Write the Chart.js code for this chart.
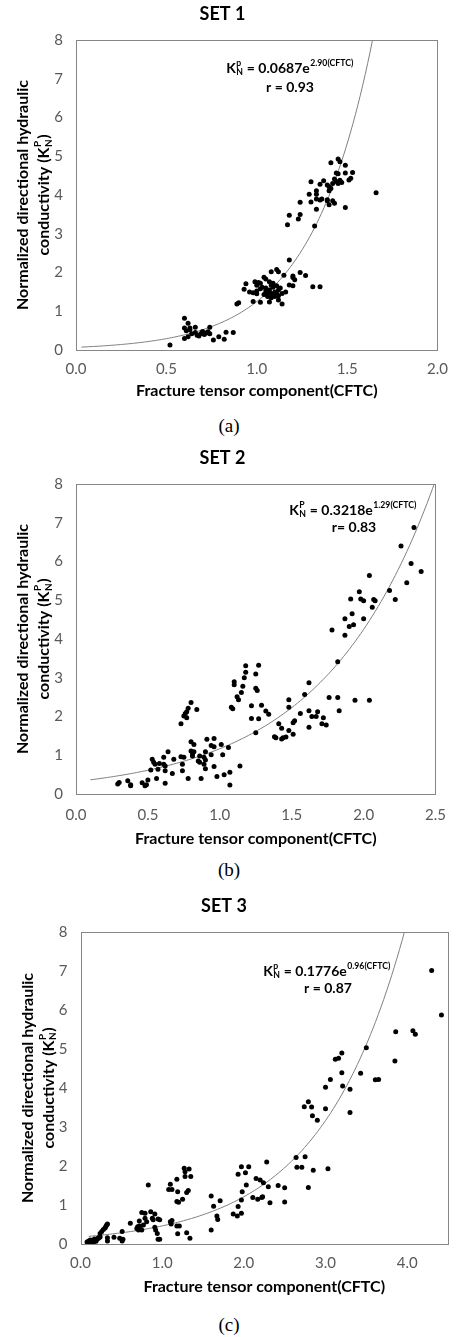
<!DOCTYPE html>
<html>
<head>
<meta charset="utf-8">
<script src="https://cdn.jsdelivr.net/npm/chart.js@4.4.1/dist/chart.umd.min.js"></script>
<style>
  body { margin: 0; background: #fff; width: 458px; height: 1337px; position: relative; overflow: hidden; }
  canvas { position: absolute; left: 0; }
  .cap { position: absolute; left: 0; width: 458px; text-align: center; line-height: 22px;
         font-family: "Liberation Serif", "Times New Roman", serif; font-size: 19px; color: #000; }
</style>
</head>
<body>
<canvas id="set1" width="458" height="400" style="top:0px"></canvas>
<div class="cap" style="top:415px">(a)</div>
<canvas id="set2" width="458" height="404" style="top:444px"></canvas>
<div class="cap" style="top:859px">(b)</div>
<canvas id="set3" width="458" height="404" style="top:892px"></canvas>
<div class="cap" style="top:1314px">(c)</div>

<script>
// ---- data (CFTC, Kn) ----
const set1Points = [
  [0.52,0.13],[0.60,0.82],[0.62,0.69],[0.60,0.57],[0.63,0.57],[0.61,0.50],[0.63,0.52],[0.66,0.59],[0.74,0.59],
  [0.60,0.30],[0.62,0.34],[0.64,0.42],[0.66,0.45],[0.67,0.38],[0.68,0.36],[0.69,0.42],[0.70,0.46],[0.70,0.48],
  [0.71,0.40],[0.72,0.44],[0.73,0.47],[0.74,0.42],[0.76,0.26],[0.79,0.34],[0.82,0.28],[0.83,0.46],[0.87,0.45],
  [0.89,1.19],[0.90,1.22],[0.93,1.57],[0.94,1.71],[0.99,1.76],[1.01,1.74],[1.00,1.67],[1.02,1.72],[1.07,1.76],
  [1.09,1.72],[1.08,1.67],[0.98,1.25],[1.02,1.23],[1.07,1.24],[1.12,1.29],[1.14,1.19],[1.16,1.50],[1.04,1.88],
  [1.05,1.83],[1.08,2.02],[1.11,2.08],[1.12,2.02],[1.15,1.93],[1.20,1.91],[1.20,1.87],[1.21,1.81],[1.24,2.00],
  [1.27,1.92],[1.18,1.68],[1.20,1.66],[1.31,1.63],[1.35,1.63],[1.18,2.32],
  [0.96,1.50],[0.98,1.48],[1.00,1.52],[1.02,1.58],[1.03,1.62],[1.05,1.52],[1.06,1.47],[1.07,1.55],[1.08,1.46],
  [1.09,1.40],[1.10,1.50],[1.11,1.45],[1.12,1.55],[1.13,1.60],[1.14,1.46],[1.04,1.43],[1.06,1.38],[1.08,1.35],
  [1.10,1.38],[1.12,1.40],[1.00,1.45],[1.05,1.60],[1.09,1.62],[1.11,1.66],
  [1.17,3.23],[1.18,3.48],[1.24,3.50],[1.23,3.38],[1.32,3.20],[1.33,3.63],[1.49,3.68],[1.66,4.06],[1.24,3.81],
  [1.30,3.82],[1.33,3.90],[1.36,3.90],[1.35,3.87],[1.39,3.88],[1.39,3.85],[1.42,3.85],[1.43,3.79],[1.40,3.75],
  [1.29,4.02],[1.33,4.02],[1.33,4.11],[1.40,4.11],[1.30,4.34],[1.37,4.37],[1.35,4.28],[1.39,4.26],[1.40,4.21],
  [1.41,4.17],[1.43,4.41],[1.44,4.35],[1.45,4.30],[1.46,4.38],[1.44,4.57],[1.45,4.55],[1.49,4.57],[1.53,4.58],
  [1.52,4.43],[1.51,4.39],[1.45,4.93],[1.46,4.86],[1.41,4.83],[1.49,4.77],[1.47,4.32],[1.42,4.30]
];
const set2Points = [
  [0.29,0.26],[0.30,0.30],[0.36,0.34],[0.38,0.24],[0.38,0.21],[0.46,0.29],[0.48,0.21],[0.49,0.24],[0.50,0.36],
  [0.52,0.62],[0.53,0.90],[0.54,0.82],[0.55,0.77],[0.56,0.40],[0.57,0.64],[0.58,0.79],[0.61,0.77],[0.61,0.95],
  [0.62,0.72],[0.62,0.60],[0.62,0.28],[0.64,1.09],[0.67,0.53],[0.68,0.90],[0.73,0.96],[0.74,0.77],[0.74,0.60],
  [0.75,0.95],[0.78,0.40],[0.80,1.11],[0.81,1.03],[0.82,1.09],[0.81,0.98],[0.80,1.35],[0.82,1.28],[0.86,0.98],
  [0.85,0.85],[0.86,0.82],[0.87,0.40],[0.89,0.77],[0.89,0.95],[0.90,0.65],[0.90,0.88],[0.90,1.09],[0.91,1.41],
  [0.94,1.01],[0.94,1.25],[0.96,1.43],[0.96,1.22],[0.96,0.71],[0.98,0.45],[1.01,1.28],[1.02,1.01],[1.03,0.50],
  [1.06,1.20],[1.07,0.56],[1.07,0.23],[1.14,0.72],
  [0.73,1.81],[0.75,2.01],[0.76,2.08],[0.77,2.12],[0.77,1.97],[0.78,2.21],[0.80,2.36],[0.84,2.18],
  [1.08,2.24],[1.09,2.20],[1.10,2.82],[1.10,2.90],[1.12,2.51],[1.13,2.43],[1.15,2.62],[1.16,2.78],[1.17,3.00],
  [1.18,3.14],[1.18,3.31],[1.22,2.28],[1.22,1.95],[1.25,2.73],[1.26,2.67],[1.25,3.10],[1.27,3.32],[1.27,1.94],
  [1.25,1.58],[1.29,2.29],[1.32,2.14],[1.34,2.06],
  [1.38,1.48],[1.39,1.45],[1.41,1.81],[1.43,1.42],[1.43,1.70],[1.44,1.45],[1.46,1.47],[1.48,1.64],[1.48,2.43],
  [1.48,2.24],[1.51,1.54],[1.51,1.84],[1.52,1.89],[1.56,2.08],[1.59,2.57],[1.62,1.72],[1.62,2.15],[1.62,2.87],
  [1.64,2.00],[1.67,2.00],[1.68,2.12],[1.71,1.81],[1.72,1.97],[1.74,1.78],[1.76,2.49],[1.82,2.49],[1.83,2.15],
  [1.94,2.42],[2.04,2.42],
  [1.78,4.23],[1.82,3.41],[1.87,4.10],[1.87,4.52],[1.90,4.32],[1.91,5.03],[1.92,4.65],[1.93,4.37],[1.97,5.22],
  [1.98,5.03],[2.00,4.99],[2.00,4.52],[2.04,5.64],[2.06,4.82],[2.07,5.02],[2.08,4.99],[2.18,5.25],[2.22,5.02],
  [2.26,6.40],[2.30,5.45],[2.33,5.95],[2.35,6.88],[2.40,5.74]
];
const set3Points = [
  [0.08,0.05],[0.10,0.08],[0.11,0.04],[0.12,0.10],[0.13,0.06],[0.15,0.09],[0.16,0.05],[0.17,0.13],[0.18,0.10],
  [0.19,0.07],[0.20,0.12],[0.21,0.14],[0.22,0.15],[0.23,0.17],[0.24,0.18],[0.24,0.27],[0.26,0.32],[0.28,0.37],
  [0.30,0.41],[0.31,0.45],[0.32,0.49],[0.33,0.51],[0.33,0.16],[0.33,0.08],[0.41,0.17],[0.48,0.15],[0.51,0.32],
  [0.52,0.12],[0.51,0.08],
  [0.61,0.53],[0.69,0.40],[0.70,0.44],[0.71,0.36],[0.72,0.46],[0.72,0.59],[0.73,0.42],[0.75,0.81],[0.75,0.36],
  [0.77,0.49],[0.79,0.66],[0.79,0.79],[0.81,0.57],[0.83,1.51],[0.86,0.83],[0.88,0.66],[0.89,0.62],[0.91,0.77],
  [0.91,0.43],[0.92,0.36],[0.94,0.27],[0.95,0.64],[0.95,0.12],[0.97,0.12],[0.97,0.62],
  [1.08,1.40],[1.10,1.53],[1.10,0.57],[1.11,0.51],[1.12,0.60],[1.12,1.40],[1.18,1.66],[1.18,1.09],[1.18,0.46],
  [1.19,1.34],[1.19,0.26],[1.20,1.07],[1.21,0.46],[1.25,1.15],[1.27,1.94],[1.28,1.85],[1.28,1.73],[1.30,1.32],
  [1.30,0.29],[1.32,1.37],[1.33,1.92],[1.34,0.15],[1.35,1.73],
  [1.60,1.23],[1.60,0.36],[1.63,0.97],[1.67,0.72],[1.68,0.63],[1.71,1.11],[1.87,0.77],[1.92,0.72],[1.93,1.79],
  [1.93,0.96],[1.97,1.98],[1.97,1.13],[1.97,0.79],[1.98,1.34],[2.02,1.83],[2.03,1.51],[2.06,1.98],[2.11,1.19],
  [2.15,1.68],[2.17,1.15],[2.20,1.64],[2.22,1.19],[2.24,1.57],[2.23,1.21],[2.28,2.10],[2.30,1.47],[2.32,1.06],
  [2.42,1.50],[2.50,1.44],[2.50,1.08],
  [2.64,2.22],[2.65,1.97],[2.71,1.97],[2.74,3.52],[2.75,2.24],[2.79,3.65],[2.79,1.45],[2.83,3.51],[2.84,3.29],
  [2.85,1.89],[2.90,3.17],[3.00,3.47],[3.03,1.93],[3.00,4.02],[3.06,4.22],[3.12,4.74],[3.16,4.76],[3.20,4.90],
  [3.20,4.39],[3.21,4.05],[3.30,3.97],[3.30,3.37],[3.43,4.38],[3.50,5.03],[3.61,4.21],[3.65,4.22],[3.85,4.69],
  [3.86,5.44],[4.07,5.47],[4.10,5.38],[4.30,7.01],[4.42,5.87]
];

// exponential trendlines as printed on each panel: Kn = a * e^(b * CFTC)
const set1Fit = { a: 0.0687, b: 2.90, from: 0.03, to: 1.64 };
const set2Fit = { a: 0.3218, b: 1.29, from: 0.10, to: 2.50 };
const set3Fit = { a: 0.1776, b: 0.96, from: 0.10, to: 3.97 };

const yTicks = [0, 1, 2, 3, 4, 5, 6, 7, 8];
const set1XTicks = [0, 0.5, 1.0, 1.5, 2.0];
const set2XTicks = [0, 0.5, 1.0, 1.5, 2.0, 2.5];
const set3XTicks = [0, 1.0, 2.0, 3.0, 4.0];

const FONT = "Lato, 'Open Sans', sans-serif";

function fitCurve(f) {
  const pts = [];
  for (let i = 0; i <= 120; i++) {
    const x = f.from + (f.to - f.from) * i / 120;
    pts.push({ x: x, y: f.a * Math.exp(f.b * x) });
  }
  return pts;
}

// text with stacked sub / superscripts
function partsWidth(ctx, parts, size) {
  let w = 0;
  parts.forEach(p => {
    if (typeof p === "string") {
      ctx.font = "bold " + size + "px " + FONT;
      w += ctx.measureText(p).width;
    } else {
      ctx.font = "bold " + (size * 0.62) + "px " + FONT;
      const a = p.sup ? ctx.measureText(p.sup).width : 0;
      const b = p.sub ? ctx.measureText(p.sub).width : 0;
      w += Math.max(a, b) + 1;
    }
  });
  return w;
}
function drawParts(ctx, parts, cx, cy, size) {
  let x = cx - partsWidth(ctx, parts, size) / 2;
  ctx.textAlign = "left";
  ctx.textBaseline = "middle";
  ctx.fillStyle = "#000";
  parts.forEach(p => {
    if (typeof p === "string") {
      ctx.font = "bold " + size + "px " + FONT;
      ctx.fillText(p, x, cy);
      x += ctx.measureText(p).width;
    } else {
      ctx.font = "bold " + (size * 0.62) + "px " + FONT;
      let ww = 0;
      if (p.sup) { ctx.fillText(p.sup, x + 0.5, cy - size * 0.36); ww = Math.max(ww, ctx.measureText(p.sup).width); }
      if (p.sub) { ctx.fillText(p.sub, x + 0.5, cy + size * 0.3); ww = Math.max(ww, ctx.measureText(p.sub).width); }
      x += ww + 1;
    }
  });
}

const extrasPlugin = {
  id: "extras",
  afterDraw(chart, args, opts) {
    const ctx = chart.ctx;
    const a = chart.chartArea;
    ctx.save();
    // plot frame
    ctx.strokeStyle = "#868686";
    ctx.lineWidth = 1;
    ctx.strokeRect(Math.round(a.left) + 0.5, Math.round(a.top) + 0.5,
                   Math.round(a.right - a.left) - 1, Math.round(a.bottom - a.top));
    // y axis title, two rotated lines
    const midY = (a.top + a.bottom) / 2;
    [["Normalized directional hydraulic"], ["conductivity (K", { sub: "N", sup: "P" }, ")"]].forEach((line, i) => {
      ctx.save();
      ctx.translate(a.left + opts.yTitleX[i], midY);
      ctx.rotate(-Math.PI / 2);
      drawParts(ctx, line, 0, 0, 16);
      ctx.restore();
    });
    // equation + r
    drawParts(ctx, opts.eq, opts.eqPos[0], opts.eqPos[1], 14);
    drawParts(ctx, [opts.r], opts.rPos[0], opts.rPos[1], 14);
    ctx.restore();
  }
};

function makeChart(id, c) {
  return new Chart(document.getElementById(id), {
    type: "scatter",
    data: {
      datasets: [
        { data: c.points.map(p => ({ x: p[0], y: p[1] })), pointRadius: 2.5, pointHoverRadius: 2.5,
          backgroundColor: "#000", borderWidth: 0 },
        { data: fitCurve(c.fit), showLine: true, pointRadius: 0, borderColor: "#808080", borderWidth: 1, fill: false }
      ]
    },
    options: {
      responsive: false,
      animation: false,
      events: [],
      layout: { padding: { left: 0, right: c.padRight, top: 0, bottom: 0 } },
      plugins: {
        legend: { display: false },
        tooltip: { enabled: false },
        title: { display: true, text: c.title, color: "#000",
                 font: { family: FONT, size: 18, weight: "bold" }, padding: { top: 3, bottom: 15.4 } },
        extras: { eq: c.eq, eqPos: c.eqPos, r: c.r, rPos: c.rPos, yTitleX: c.yTitleX }
      },
      scales: {
        x: {
          type: "linear", min: 0, max: c.xMax,
          grid: { display: false, drawTicks: false }, border: { display: false },
          afterBuildTicks: s => { s.ticks = c.xTicks.map(v => ({ value: v })); },
          ticks: { padding: c.xTickPad, color: "#595959", font: { family: FONT, size: 15 },
                   callback: v => Number(v).toFixed(1) },
          title: { display: true, text: "Fracture tensor component(CFTC)", color: "#000",
                   font: { family: FONT, size: 16, weight: "bold" }, padding: { top: 0, bottom: c.xTitlePad } },
          afterFit: s => { s.height = c.xAxisH; }
        },
        y: {
          type: "linear", min: 0, max: 8,
          grid: { display: false, drawTicks: false }, border: { display: false },
          afterBuildTicks: s => { s.ticks = yTicks.map(v => ({ value: v })); },
          ticks: { padding: 13, color: "#595959", font: { family: FONT, size: 15 }, callback: v => String(v) },
          afterFit: s => { s.width = c.yAxisW; }
        }
      }
    },
    plugins: [extrasPlugin]
  });
}

makeChart("set1", {
  title: "SET 1", points: set1Points, fit: set1Fit, xMax: 2.0, xTicks: set1XTicks,
  padRight: 13, yAxisW: 76, xAxisH: 50, xTickPad: 10, xTitlePad: 0,
  eq: ["K", { sub: "N", sup: "p" }, " = 0.0687e", { sup: "2.90(CFTC)" }], eqPos: [290, 68],
  r: "r = 0.93", rPos: [290, 87], yTitleX: [-53, -32]
});
makeChart("set2", {
  title: "SET 2", points: set2Points, fit: set2Fit, xMax: 2.5, xTicks: set2XTicks,
  padRight: 13, yAxisW: 76, xAxisH: 54, xTickPad: 12, xTitlePad: 0,
  eq: ["K", { sub: "N", sup: "P" }, " = 0.3218e", { sup: "1.29(CFTC)" }], eqPos: [353, 66],
  r: "r= 0.83", rPos: [354, 83], yTitleX: [-53, -32]
});
makeChart("set3", {
  title: "SET 3", points: set3Points, fit: set3Fit, xMax: 4.5, xTicks: set3XTicks,
  padRight: 10, yAxisW: 80.5, xAxisH: 52, xTickPad: 10, xTitlePad: 0,
  eq: ["K", { sub: "N", sup: "p" }, " = 0.1776e", { sup: "0.96(CFTC)" }], eqPos: [327, 79],
  r: "r = 0.87", rPos: [328, 96], yTitleX: [-53, -32]
});
</script>
</body>
</html>
